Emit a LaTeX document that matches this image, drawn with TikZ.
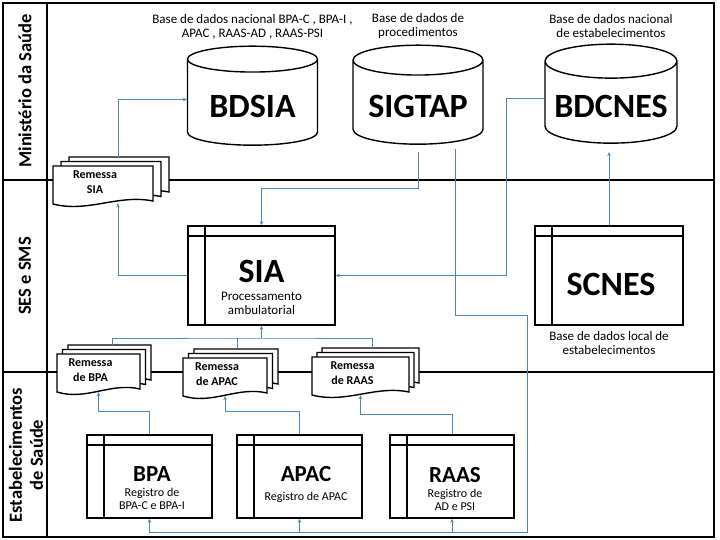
\documentclass[tikz,border=0pt]{standalone}
\usepackage{fontspec}
\setmainfont{Carlito}
\usetikzlibrary{positioning, shapes.geometric, arrows.meta}

\definecolor{linkblue}{RGB}{70,135,190}

\tikzset{
	outline/.style={line width=1.4pt},
	frame/.style={line width=1.5pt},
	link/.style={draw=linkblue, line width=0.9pt},
	flow/.style={link, -{Stealth[length=4pt, width=3.5pt]}},
	db/.style={cylinder, shape border rotate=90, aspect=0.3, draw, outline, fill=white,
		minimum width=130, minimum height=99, inner sep=0, text height=31pt, text depth=0pt,
		font=\fontsize{34}{36}\selectfont\bfseries},
	winbox/.style={draw, outline, fill=white, inner sep=0, path picture={
		\draw[outline] ([xshift=17pt]path picture bounding box.north west)
			-- ([xshift=17pt]path picture bounding box.south west);
		\draw[outline] ([yshift=-10pt]path picture bounding box.north west)
			-- ([yshift=-10pt]path picture bounding box.north east);}},
	bigtitle/.style={inner sep=0, font=\fontsize{34}{36}\selectfont\bfseries},
	midtitle/.style={inner sep=0, font=\fontsize{23}{25}\selectfont\bfseries},
	note/.style={inner sep=0, align=center, font=\fontsize{13}{14}\selectfont},
	boxnote/.style={inner sep=0, align=center, font=\fontsize{12}{13}\selectfont},
	remtext/.style={inner sep=0, align=center, font=\fontsize{12}{15}\selectfont\bfseries},
	pagebox/.style={inner sep=0, minimum height=38},
	lane/.style={rotate=90, align=center, font=\fontsize{18.5}{21}\selectfont\bfseries},
	page/.pic={\draw[outline, fill=white] (-\pw,-19) -- (\pw,-19) -- (\pw,16)
		.. controls (0.3*\pw,9) and (-0.3*\pw,28) .. (-\pw,19) -- cycle;}
}

\begin{document}
\begin{tikzpicture}[x=1pt, y=-1pt]
	\useasboundingbox (0,0) rectangle (720,540);
	\draw[frame] (3,3) rectangle (714,537);
	\draw[frame] (47,3) -- (47,537);
	\draw[frame] (3,180) -- (714,180);
	\draw[frame] (3,372) -- (714,372);

	\node[lane] (lmin) at (25,91) {Ministério da Saúde};
	\node[lane] (lses) at (25,276) {SES e SMS};
	\node[lane] (lest) at (26,455) {Estabelecimentos\\de Saúde};

	\node[db] (bdsia) at (252.5,102.5) {BDSIA};
	\node[db] (sigtap) at (418,102.5) {SIGTAP};
	\node[db, minimum width=132] (bdcnes) at (611,102.5) {BDCNES};
	\node[note, above=6pt of bdsia] (bdsianote) {Base de dados nacional BPA-C , BPA-I ,\\APAC , RAAS-AD , RAAS-PSI};
	\node[note, above=6pt of sigtap] (sigtapnote) {Base de dados de\\procedimentos};
	\node[note, above=6pt of bdcnes] (bdcnesnote) {Base de dados nacional\\de estabelecimentos};
	\coordinate (sigfoot) at (418,152);
	\coordinate (sigfoot2) at (455,149);
	\coordinate (cnesfoot) at (611,152);

	\node[winbox, minimum width=147, minimum height=99] (sia) at (261.5,275.5) {};
	\node[bigtitle, anchor=base] (siattl) at (261.5,282) {SIA};
	\node[note, below=10pt of siattl] (siadesc) {Processamento\\ambulatorial};

	\node[winbox, minimum width=148, minimum height=99] (scnes) at (609,275.5) {};
	\node[bigtitle, anchor=base] (scnesttl) at (611,295) {SCNES};
	\node[note, below=6pt of scnes] (scnesdesc) {Base de dados local de\\estabelecimentos};

	\node[winbox, minimum width=125, minimum height=83] (bpa) at (149.5,476.5) {};
	\node[midtitle, anchor=base] (bpattl) at (152,481) {BPA};
	\node[boxnote, below=7pt of bpattl] (bpadesc) {Registro de\\BPA-C e BPA-I};
	\node[winbox, minimum width=125, minimum height=83] (apac) at (299.5,476.5) {};
	\node[midtitle, anchor=base] (apacttl) at (306,481) {APAC};
	\node[boxnote, below=11pt of apacttl] (apacdesc) {Registro de APAC};
	\node[winbox, minimum width=124, minimum height=83] (raas) at (452,476.5) {};
	\node[midtitle, anchor=base] (raasttl) at (455,482) {RAAS};
	\node[boxnote, below=7pt of raasttl] (raasdesc) {Registro de\\AD e PSI};

	\foreach \x/\y/\pw/\dx/\nm/\txt in {103/185/50/8/rsia/{Remessa\\SIA},
		98.5/373/41.5/5.5/rbpa/{Remessa\\de BPA},
		225/377/42/5.5/rapac/{Remessa\\de APAC},
		360.5/376/48.5/5/rraas/{Remessa\\de RAAS}}{
		\node[pagebox, minimum width=2*\pw] (\nm) at (\x,\y) {};
		\foreach \k in {2,1}
			\pic at (\x+\k*\dx,\y-\k*4.5) {page};
		\pic at (\x,\y) {page};
		\node[remtext] (\nm-txt) at ([xshift=-8pt,yshift=3pt]\nm.center) {\txt};
	}

	\coordinate (join) at (261.5,338);
	\coordinate (corner) at (527,315);
	\coordinate (busb) at (527,532);

	\draw[flow] ([xshift=15pt,yshift=8pt]rsia.north) |- ([yshift=3pt]bdsia.west);
	\draw[flow] (sia.west) -| ([xshift=15pt,yshift=1pt]rsia.south);
	\draw[flow] (sigfoot) -- ++(0,36) -| (sia.north);
	\draw[flow] ([yshift=4pt]bdcnes.west) -- ++(-38,0) |- (sia.east);
	\draw[flow] (scnes.north) -- (scnes.north |- cnesfoot);
	\draw[link] ([xshift=14pt,yshift=9pt]rbpa.north) |- (join) -| ([xshift=12pt,yshift=9pt]rraas.north);
	\draw[link] ([xshift=12pt,yshift=9pt]rapac.north) -- ++(0,-11);
	\draw[flow] (join) -- (sia.south);
	\draw[flow] (bpa.north) -- ++(0,-23) -| (rbpa.south);
	\draw[flow] (apac.north) -- ++(0,-23) -| (rapac.south);
	\draw[flow] (raas.north) -- ++(0,-20) -| (rraas.south);
	\draw[flow] (sigfoot2) |- (corner) -- (busb) -| (bpa.south);
	\draw[flow] (apac.south |- busb) -- (apac.south);
	\draw[flow] (raas.south |- busb) -- (raas.south);
\end{tikzpicture}
\end{document}
